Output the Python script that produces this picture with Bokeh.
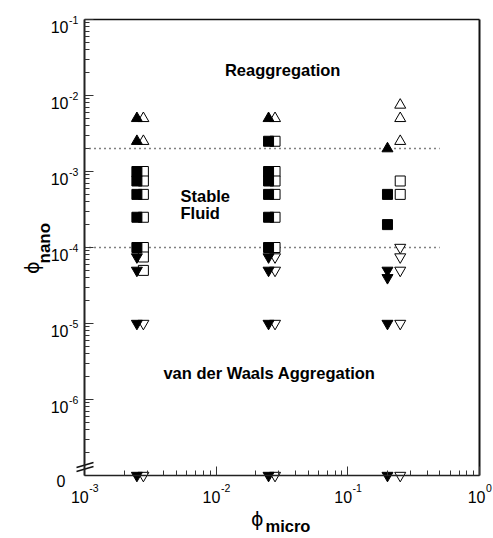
import math

from bokeh.plotting import figure
from bokeh.models import Range1d, FixedTicker, Label
from bokeh.embed import file_html
from bokeh.resources import INLINE

# ---------------------------------------------------------------- data ----
# phi_micro of the three sample columns: filled and open symbols
micro_filled = [0.0025, 0.025, 0.2]
micro_open = [0.0028, 0.028, 0.25]

# phi_nano per phi_micro column (0 means no nanoparticles added)
filled_up = [[5e-3, 2.5e-3], [5e-3], [2e-3]]
filled_sq = [[1e-3, 7.5e-4, 5e-4, 2.5e-4, 1e-4],
             [2.5e-3, 1e-3, 7.5e-4, 5e-4, 2.5e-4, 1e-4],
             [5e-4, 2e-4]]
filled_dn = [[7.5e-5, 5e-5, 1e-5, 0],
             [7.5e-5, 5e-5, 1e-5, 0],
             [5e-5, 4e-5, 1e-5, 0]]
open_up = [[5e-3, 2.5e-3], [5e-3], [7.5e-3, 5e-3, 2.5e-3]]
open_sq = [[1e-3, 7.5e-4, 5e-4, 2.5e-4, 1e-4, 7.5e-5, 5e-5],
           [2.5e-3, 1e-3, 7.5e-4, 5e-4, 2.5e-4, 1e-4],
           [7.5e-4, 5e-4]]
open_dn = [[1e-5, 0],
           [7.5e-5, 5e-5, 1e-5, 0],
           [1e-4, 7.5e-5, 5e-5, 1e-5, 0]]

# phase boundaries (dotted)
boundary_phi = [2e-3, 1e-4]
boundary_micro = [1e-3, 0.5]

# axes
x_ticks = [1e-3, 1e-2, 1e-1, 1.0]
x_exps = ["-3", "-2", "-1", "0"]
y_ticks = [-1, -2, -3, -4, -5, -6]          # log10(phi_nano)
y_exps = ["-1", "-2", "-3", "-4", "-5", "-6"]
Y_ZERO = -7                                  # where phi_nano = 0 is drawn
X_MIN, X_MAX = 1e-3, 1.0
Y_MIN, Y_MAX = Y_ZERO, -1

# ------------------------------------------------------------- layout ----
W, H = 493, 538
BOX_L, BOX_R, BOX_T, BOX_B = 84, 479, 19, 475     # axis box inside the canvas
XDEC = (BOX_R - BOX_L) / 3.0                     # px per decade, x
YDEC = (BOX_B - BOX_T) / 6.0                     # px per decade, y
FONT = "Liberation Sans"


def ylog(v):
    return math.log10(v) if v > 0 else Y_ZERO


# the frame spans the whole canvas; the axes are pinned to the box edges
p = figure(width=W, height=H, output_backend="svg", toolbar_location=None,
           x_axis_type="log",
           x_range=Range1d(10 ** (math.log10(X_MIN) - BOX_L / XDEC),
                           10 ** (math.log10(X_MAX) + (W - BOX_R) / XDEC)),
           y_range=Range1d(Y_MIN - (H - BOX_B) / YDEC, Y_MAX + BOX_T / YDEC),
           min_border=0, min_border_left=0, min_border_right=0,
           min_border_top=0, min_border_bottom=0)
p.outline_line_color = None
p.grid.visible = False
p.background_fill_color = "white"
p.border_fill_color = "white"

# x axis: log, ticks pointing inward, placed at the phi_nano = 0 line
x_minor = [k * 10.0 ** n for n in (-3, -2, -1) for k in range(2, 10)]
xa = p.xaxis[0]
xa.ticker = FixedTicker(ticks=x_ticks, minor_ticks=x_minor)
xa.fixed_location = Y_ZERO
xa.bounds = (X_MIN, X_MAX)
# y axis: log10 values on a linear scale, so the zero row can sit below the break
y_minor = [math.log10(k) + n for n in (-7, -6, -5, -4, -3, -2) for k in range(2, 10)]
ya = p.yaxis[0]
ya.ticker = FixedTicker(ticks=y_ticks, minor_ticks=y_minor)
ya.fixed_location = X_MIN
ya.bounds = (Y_MIN, Y_MAX)

for ax in (xa, ya):
    ax.major_tick_in = 9
    ax.major_tick_out = 0
    ax.minor_tick_in = 5
    ax.minor_tick_out = 0
    ax.major_label_text_color = None
    ax.major_label_text_font_size = "0px"
    ax.major_label_standoff = 0
    ax.axis_line_color = "#222222"
    ax.major_tick_line_color = "#333333"
    ax.minor_tick_line_color = "#333333"
    ax.major_tick_line_width = 1
    ax.minor_tick_line_width = 1
xa.axis_line_width = 1.5
ya.axis_line_width = 2

# top and right edges of the box
p.segment(x0=[X_MIN, X_MAX], y0=[Y_MAX, Y_ZERO], x1=[X_MAX, X_MAX], y1=[Y_MAX, Y_MAX],
          line_color="#111111", line_width=[1.5, 2])


# axis break marks on the y axis, just above the zero row
def px_x(dx):
    return 10 ** (math.log10(X_MIN) + dx / XDEC)


def px_y(dy):
    return Y_ZERO + dy / YDEC


p.segment(x0=[px_x(-8), px_x(-8)], y0=[px_y(8), px_y(4)],
          x1=[px_x(9), px_x(9)], y1=[px_y(13), px_y(9)],
          line_color="#111111", line_width=1.5)

# phase boundaries
for b in boundary_phi:
    p.line(boundary_micro, [math.log10(b)] * 2, line_color="black",
           line_width=1.5, line_dash="1 4")

# ------------------------------------------------------------- symbols ----
SIZE_SQ = 10
SIZE_TRI = 11


def column_points(xs, groups):
    px, py = [], []
    for x, vals in zip(xs, groups):
        for v in vals:
            px.append(x)
            py.append(ylog(v))
    return px, py


# open symbols underneath, filled ones on top
for groups, marker, size in ((open_up, "triangle", SIZE_TRI),
                             (open_sq, "square", SIZE_SQ),
                             (open_dn, "inverted_triangle", SIZE_TRI)):
    xs, ys = column_points(micro_open, groups)
    p.scatter(xs, ys, marker=marker, size=size, fill_color="white",
              line_color="black", line_width=1)

for groups, marker, size in ((filled_up, "triangle", SIZE_TRI),
                             (filled_sq, "square", SIZE_SQ),
                             (filled_dn, "inverted_triangle", SIZE_TRI)):
    xs, ys = column_points(micro_filled, groups)
    p.scatter(xs, ys, marker=marker, size=size, fill_color="black",
              line_color="black", line_width=1)

# ------------------------------------------------------------- texts ----
BASE = 16
SUP = 10.5


def em_width(s, size):
    return sum(0.333 if c == "-" else 0.556 for c in s) * size


def add_text(**kw):
    kw.setdefault("text_font", FONT)
    kw.setdefault("text_color", "black")
    kw.setdefault("text_baseline", "middle")
    p.add_layout(Label(**kw))


# x tick labels: 10 with superscript exponent
w10 = em_width("10", BASE)
for t, e in zip(x_ticks, x_exps):
    left = -(w10 + em_width(e, SUP)) / 2
    add_text(x=t, y=Y_ZERO, x_offset=left, y_offset=-21, text="10",
             text_align="left", text_font_size=f"{BASE}px")
    add_text(x=t, y=Y_ZERO, x_offset=left + w10 + 0.5, y_offset=-12, text=e,
             text_align="left", text_font_size=f"{SUP}px")

# y tick labels
for t, e in zip(y_ticks, y_exps):
    add_text(x=X_MIN, y=t, x_offset=-16, y_offset=-7, text="10",
             text_align="right", text_font_size=f"{BASE}px")
    add_text(x=X_MIN, y=t, x_offset=-15.5, y_offset=0, text=e,
             text_align="left", text_font_size=f"{SUP}px")
add_text(x=X_MIN, y=Y_ZERO, x_offset=-19, y_offset=-5, text="0",
         text_align="right", text_font_size=f"{BASE}px")

# region names
REGION = dict(text_font_style="bold", text_font_size="16.5px")
add_text(x=0.032, y=-1.67, text="Reaggregation", text_align="center", **REGION)
add_text(x=0.00536, y=-3.32, text="Stable", text_align="left", **REGION)
add_text(x=0.00536, y=-3.54, text="Fluid", text_align="left", **REGION)
add_text(x=0.0254, y=-5.645, text="van der Waals Aggregation", text_align="center", **REGION)

# axis titles
X_MID = 10 ** ((math.log10(X_MIN) + math.log10(X_MAX)) / 2)
Y_MID = (Y_MIN + Y_MAX) / 2
add_text(x=X_MID, y=Y_ZERO, x_offset=-18.5, y_offset=-43, text="\u03d5",
         text_align="right", text_font="DejaVu Sans", text_font_size="19px")
add_text(x=X_MID, y=Y_ZERO, x_offset=-16.5, y_offset=-50, text="micro",
         text_align="left", text_font_style="bold", text_font_size="16.5px")
add_text(x=X_MIN, y=Y_MID, x_offset=-53, y_offset=-14, text="\u03d5", angle=math.pi / 2,
         text_align="right", text_font="DejaVu Sans", text_font_size="19px")
add_text(x=X_MIN, y=Y_MID, x_offset=-40, y_offset=-16, text="nano", angle=math.pi / 2,
         text_align="left", text_baseline="alphabetic",
         text_font_style="bold", text_font_size="17px")

open("out.html", "w").write(file_html(p, INLINE))
